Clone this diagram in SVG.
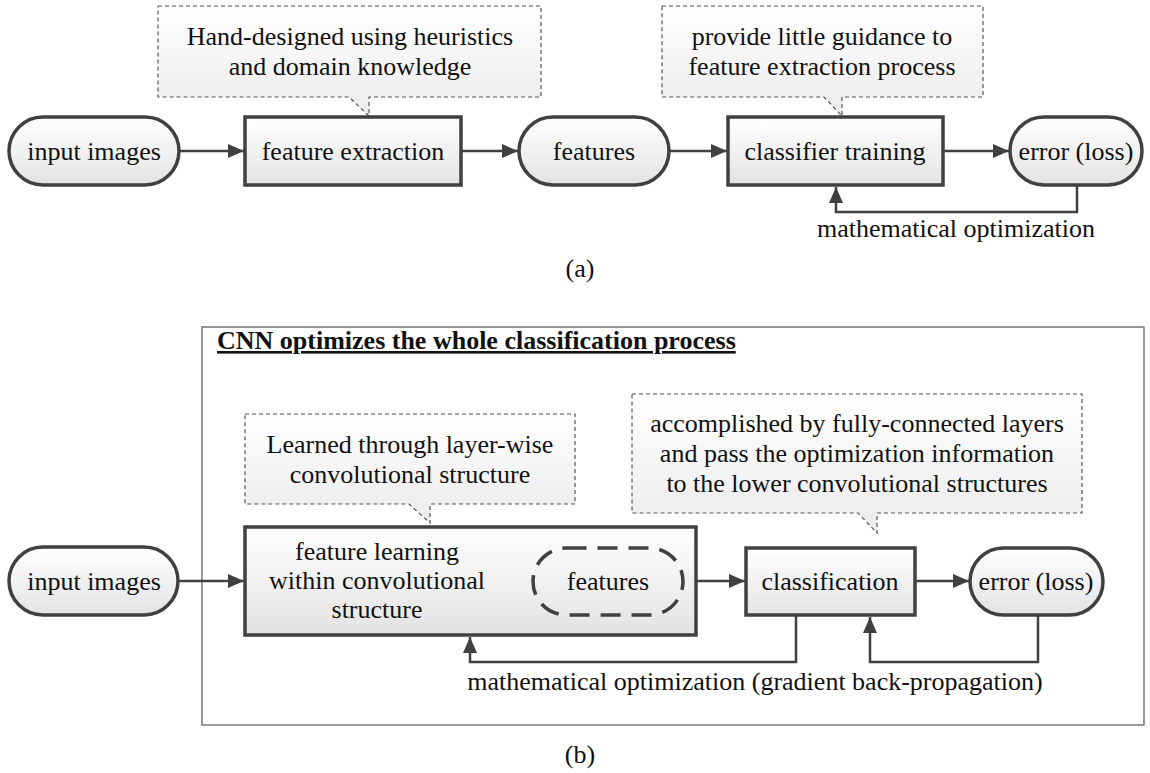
<svg xmlns="http://www.w3.org/2000/svg" width="1150" height="773" viewBox="0 0 1150 773">
<defs>
<linearGradient id="gNode" x1="0" y1="0" x2="0" y2="1">
<stop offset="0" stop-color="#ffffff"/>
<stop offset="1" stop-color="#e3e3e3"/>
</linearGradient>
<linearGradient id="gCall" x1="0" y1="0" x2="0" y2="1">
<stop offset="0" stop-color="#ffffff"/>
<stop offset="1" stop-color="#ebebeb"/>
</linearGradient>
<marker id="arr" markerUnits="userSpaceOnUse" markerWidth="16" markerHeight="14" refX="16" refY="7" orient="auto">
<path d="M0,0 L16,7 L0,14 z" fill="#404040"/>
</marker>
<style>
text{font-family:"Liberation Serif","Times New Roman",serif;font-size:26px;fill:#111;text-anchor:middle}
.node{fill:url(#gNode);stroke:#404040;stroke-width:3.5}
.dashpill{fill:none;stroke:#404040;stroke-width:3.5;stroke-dasharray:20 11}
.call{fill:url(#gCall);stroke:#555;stroke-width:1.2;stroke-dasharray:4 3}
.conn{fill:none;stroke:#404040;stroke-width:2.5;marker-end:url(#arr)}
.line{fill:none;stroke:#404040;stroke-width:2.5}
.frame{fill:none;stroke:#777;stroke-width:1.5}
.title{font-weight:bold;text-anchor:start;text-decoration:underline}
</style>
</defs>
<rect width="1150" height="773" fill="#ffffff"/>

<!-- Part (a) -->
<g id="a-callout1">
<path class="call" d="M158,6 H541 V97 H369 V116 L349,97 H158 Z"/>
<text x="350" y="45">Hand-designed using heuristics</text>
<text x="350" y="75">and domain knowledge</text>
</g>
<g id="a-callout2">
<path class="call" d="M662,6 H983 V97 H842 V116 L824,97 H662 Z"/>
<text x="822" y="45">provide little guidance to</text>
<text x="822" y="75">feature extraction process</text>
</g>
<g id="a-input">
<rect class="node" x="9" y="117" width="170" height="68" rx="34" ry="34"/>
<text x="94" y="160">input images</text>
</g>
<g id="a-extraction">
<rect class="node" x="245" y="117" width="216" height="68"/>
<text x="353" y="160">feature extraction</text>
</g>
<g id="a-features">
<rect class="node" x="519" y="117" width="150" height="68" rx="34" ry="34"/>
<text x="594" y="160">features</text>
</g>
<g id="a-classifier">
<rect class="node" x="728" y="117" width="215" height="68"/>
<text x="835" y="160">classifier training</text>
</g>
<g id="a-error">
<rect class="node" x="1010" y="117" width="132" height="68" rx="34" ry="34"/>
<text x="1076" y="160">error (loss)</text>
</g>
<g id="a-connectors">
<path class="conn" d="M179,151 H244"/>
<path class="conn" d="M461,151 H518"/>
<path class="conn" d="M669,151 H727"/>
<path class="conn" d="M943,151 H1009"/>
<path class="conn" d="M1077,185 V212 H836 V187"/>
<text x="956" y="237">mathematical optimization</text>
</g>
<text x="580" y="277">(a)</text>

<!-- Part (b) -->
<g id="b-frame">
<rect class="frame" x="202" y="327" width="942" height="398"/>
<text class="title" x="217" y="349">CNN optimizes the whole classification process</text>
</g>
<g id="b-callout1">
<path class="call" d="M245,414 H575 V504 H430 V523 L409,504 H245 Z"/>
<text x="410" y="453">Learned through layer-wise</text>
<text x="410" y="483">convolutional structure</text>
</g>
<g id="b-callout2">
<path class="call" d="M632,394 H1082 V513 H877 V533 L858,513 H632 Z"/>
<text x="857" y="432">accomplished by fully-connected layers</text>
<text x="857" y="462">and pass the optimization information</text>
<text x="857" y="492">to the lower convolutional structures</text>
</g>
<g id="b-input">
<rect class="node" x="9" y="547" width="169" height="68" rx="34" ry="34"/>
<text x="94" y="590">input images</text>
</g>
<g id="b-learning">
<rect class="node" x="245" y="527" width="451" height="108"/>
<text x="377" y="560">feature learning</text>
<text x="377" y="589">within convolutional</text>
<text x="377" y="618">structure</text>
</g>
<g id="b-features">
<rect class="dashpill" x="533" y="548" width="150" height="67" rx="33.5" ry="33.5"/>
<text x="608" y="590">features</text>
</g>
<g id="b-classification">
<rect class="node" x="746" y="548" width="169" height="67"/>
<text x="830" y="590">classification</text>
</g>
<g id="b-error">
<rect class="node" x="970" y="548" width="133" height="67" rx="33.5" ry="33.5"/>
<text x="1036" y="590">error (loss)</text>
</g>
<g id="b-connectors">
<path class="conn" d="M178,581 H244"/>
<path class="conn" d="M696,581 H745"/>
<path class="conn" d="M915,581 H969"/>
<path class="conn" d="M796,615 V662 H470 V637"/>
<path class="conn" d="M1038,615 V662 H870 V617"/>
<text x="755" y="690">mathematical optimization (gradient back-propagation)</text>
</g>
<text x="580" y="763">(b)</text>
</svg>
